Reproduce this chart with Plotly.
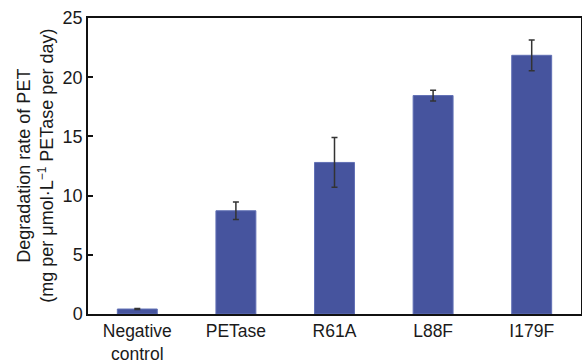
import plotly.graph_objects as go

categories = ["Negative<br>control", "PETase", "R61A", "L88F", "I179F"]
rates = [0.42, 8.72, 12.8, 18.45, 21.85]
errors = [0.05, 0.73, 2.1, 0.45, 1.3]
y_ticks = [0, 5, 10, 15, 20, 25]

FONT = "Liberation Sans, Arial, sans-serif"

fig = go.Figure()
fig.add_trace(go.Bar(
    x=categories, y=rates,
    marker=dict(color="#46549e", line=dict(color="#6170b5", width=1)),
    error_y=dict(type="data", array=errors, visible=True,
                 color="#333333", thickness=1.5, width=3),
    width=0.405,
))

fig.update_layout(
    width=582, height=363,
    margin=dict(l=88, r=1, t=18, b=49),
    paper_bgcolor="white", plot_bgcolor="white",
    font=dict(family=FONT, size=18, color="#1a1a1a"),
    showlegend=False,
    xaxis=dict(showline=True, linecolor="#111111", linewidth=1.5, mirror=True,
               ticks="", showgrid=False, range=[-0.5, 4.5], automargin=False,
               tickfont=dict(size=17.5)),
    yaxis=dict(range=[0, 25], tickvals=y_ticks, ticks="inside", ticklen=5,
               tickwidth=1.5, tickcolor="#111111", automargin=False,
               showline=True, linecolor="#111111", linewidth=1.5, mirror=True,
               showgrid=False, zeroline=False, tickfont=dict(size=18)),
    annotations=[dict(
        text="Degradation rate of PET<br>(mg per μmol·L<sup><span style='font-size:12px'>−1</span></sup> PETase per day)",
        xref="paper", yref="paper", x=-0.108, y=0.5,
        xanchor="center", yanchor="middle", textangle=-90, align="center",
        showarrow=False, font=dict(family=FONT, size=18, color="#1a1a1a"),
    )],
)

fig.write_html("out.html", config={"displayModeBar": False},
               post_script="document.body.style.margin='0';document.body.style.overflow='hidden';")
